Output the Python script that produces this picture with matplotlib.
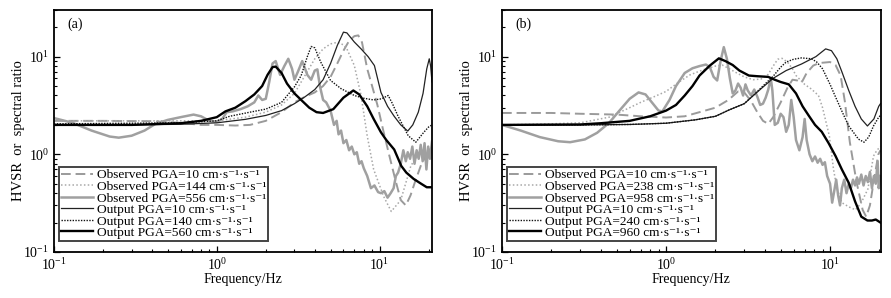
import numpy as np
import matplotlib
matplotlib.use('Agg')
import matplotlib.pyplot as plt

plt.rcParams['font.family'] = ['Liberation Serif', 'DejaVu Serif']
plt.rcParams['mathtext.fontset'] = 'custom'
plt.rcParams['mathtext.rm'] = 'Liberation Serif'
plt.rcParams['mathtext.it'] = 'Liberation Serif:italic'
plt.rcParams['font.size'] = 10

# ---- panel (a) ----
fa_obs10 = [0.1, 0.2, 0.4, 0.6, 0.8, 1.0, 1.3, 1.6, 2.0, 2.5, 3.0, 3.5, 4.0, 4.5, 5.0, 5.5, 6.0, 6.5,
            7.0, 7.4, 7.8, 8.4, 9.0, 9.7, 10.5, 11.5, 12.5, 13.5, 14.5, 15.5, 16.5, 18.0, 19.5, 21.0]
va_obs10 = [2.2, 2.2, 2.18, 2.1, 2.0, 2.0, 1.97, 2.0, 2.2, 2.7, 3.4, 3.9, 4.3, 5.0, 6.2, 8.5, 11.5, 14.5,
            16.2, 16.5, 14.0, 7.5, 5.0, 3.2, 1.8, 0.96, 0.55, 0.34, 0.30, 0.38, 0.52, 0.78, 1.0, 1.05]

fa_obs144 = [0.1, 0.3, 0.6, 1.0, 1.5, 2.0, 2.5, 3.0, 3.5, 4.0, 4.5, 5.0, 5.5, 6.0, 6.3, 7.0, 7.7, 8.4,
             9.2, 10.6, 11.8, 13.5, 15.6, 17.5, 19.5, 21.0]
va_obs144 = [2.2, 2.2, 2.2, 2.2, 2.4, 2.7, 3.2, 4.2, 6.5, 9.5, 12.0, 13.5, 14.0, 13.2, 12.0, 8.1, 4.0, 1.54,
             0.7, 0.37, 0.26, 0.34, 0.77, 1.0, 1.1, 1.15]

fa_obs556 = [0.1, 0.13, 0.17, 0.22, 0.25, 0.3, 0.36, 0.42, 0.5, 0.6, 0.72, 0.8, 0.9, 1.0, 1.08, 1.15,
             1.25, 1.4, 1.55, 1.7, 1.8, 1.9, 2.0, 2.1, 2.2, 2.3, 2.45, 2.6, 2.75, 2.9, 3.0, 3.15, 3.35,
             3.6, 3.8, 4.0, 4.15, 4.3, 4.5, 4.7, 5.0, 5.25, 5.45, 5.6, 5.8, 6.0, 6.25, 6.5, 6.75, 7.0,
             7.25, 7.5, 7.75, 8.0, 8.4, 8.85, 9.3, 9.8, 10.2, 10.7, 11.2, 11.7, 12.2, 12.6, 13.0, 13.5,
             14.0, 14.5, 14.9, 15.4, 15.9, 16.4, 16.9, 17.4, 17.9, 18.4, 18.9, 19.4, 19.9, 20.4, 21.0]
va_obs556 = [2.35, 2.1, 1.75, 1.52, 1.48, 1.55, 1.75, 2.05, 2.25, 2.4, 2.55, 2.45, 2.2, 2.15, 2.3, 2.7,
             2.75, 2.9, 3.1, 3.4, 4.0, 3.6, 3.7, 5.5, 8.5, 9.0, 6.5, 8.0, 9.5, 7.5, 5.8, 7.0, 9.0,
             6.5, 5.8, 7.2, 7.4, 5.0, 3.6, 3.4, 2.8, 2.0, 2.2, 1.6, 1.75, 1.3, 1.4, 1.1, 1.2, 1.0,
             1.05, 0.8, 0.85, 0.72, 0.6, 0.45, 0.48, 0.41, 0.4, 0.42, 0.36, 0.4, 0.45, 0.6, 0.65, 0.8,
             1.1, 0.85, 1.05, 0.9, 1.2, 0.8, 1.1, 0.9, 1.25, 0.85, 1.3, 0.7, 1.2, 0.9, 1.35]

fa_out10 = [0.1, 0.3, 0.6, 1.0, 1.5, 2.0, 2.5, 3.0, 3.5, 4.0, 4.5, 5.0, 5.5, 6.0, 6.3, 7.0, 7.7, 8.5,
            9.3, 10.2, 11.2, 12.3, 13.5, 14.9, 16.0, 17.3, 18.5, 19.5, 20.2, 20.6, 21.0]
va_out10 = [2.0, 2.0, 2.03, 2.1, 2.28, 2.5, 2.8, 3.3, 3.9, 4.6, 5.8, 8.5, 13.0, 17.8, 17.5, 14.1, 12.0, 10.0,
            8.1, 4.3, 3.1, 2.45, 2.0, 1.73, 2.0, 2.7, 4.2, 7.5, 9.5, 8.0, 5.5]

fa_out140 = [0.1, 0.3, 0.6, 1.0, 1.2, 1.6, 2.0, 2.5, 3.0, 3.3, 3.6, 3.8, 4.0, 4.35, 5.0, 5.8, 7.0, 8.0,
             9.2, 10.3, 11.3, 12.0, 13.0, 15.0, 16.7, 18.7, 20.0, 21.0]
va_out140 = [2.05, 2.08, 2.1, 2.2, 2.45, 2.7, 2.9, 3.4, 4.9, 6.4, 10.0, 12.7, 12.3, 8.8, 5.7, 4.7, 4.0, 3.75,
             3.6, 3.7, 4.0, 3.3, 2.45, 1.55, 1.33, 1.68, 1.9, 2.0]

fa_out560 = [0.1, 0.3, 0.6, 0.8, 1.0, 1.13, 1.3, 1.5, 1.7, 1.9, 2.05, 2.2, 2.3, 2.5, 2.7, 3.0, 3.3, 3.7,
             4.1, 4.5, 5.2, 6.0, 6.9, 7.5, 8.4, 9.2, 10.2, 11.0, 12.3, 13.6, 14.6, 16.2, 18.0, 19.5, 21.0]
va_out560 = [2.0, 2.0, 2.08, 2.2, 2.4, 2.75, 3.0, 3.5, 4.1, 5.0, 6.5, 7.8, 7.9, 6.8, 5.3, 4.2, 3.6, 3.0,
             2.7, 2.65, 2.9, 3.8, 4.5, 4.1, 3.1, 2.3, 1.68, 1.4, 1.12, 0.76, 0.65, 0.56, 0.5, 0.46, 0.46]

# ---- panel (b) ----
fb_obs10 = [0.1, 0.2, 0.3, 0.5, 0.7, 1.0, 1.3, 1.6, 2.0, 2.4, 2.75, 3.0, 3.3, 3.6, 3.9, 4.2, 4.5, 5.0,
            5.5, 5.9, 6.3, 6.7, 7.2, 7.9, 8.6, 10.0, 10.8, 11.6, 12.3, 13.2, 14.5, 15.8, 16.6, 17.5,
            18.4, 19.7, 20.3]
vb_obs10 = [2.65, 2.65, 2.6, 2.55, 2.45, 2.38, 2.45, 2.7, 3.0, 3.6, 4.4, 4.3, 3.5, 2.7, 2.2, 2.05, 2.4, 3.4,
            4.8, 5.8, 5.7, 5.4, 6.8, 8.1, 8.6, 8.8, 8.2, 6.4, 3.5, 1.33, 0.52, 0.27, 0.23, 0.3,
            0.51, 1.0, 1.1]

fb_obs238 = [0.1, 0.2, 0.3, 0.45, 0.6, 0.7, 0.85, 1.0, 1.2, 1.4, 1.6, 1.8, 2.0, 2.2, 2.4, 2.7, 3.0, 3.4,
             3.8, 4.2, 4.5, 4.8, 5.1, 5.5, 5.9, 6.2, 7.0, 7.7, 8.5, 9.0, 9.9, 10.5, 11.0, 11.8, 13.0,
             14.3, 15.5, 17.0, 18.4, 19.3, 20.3]
vb_obs238 = [2.0, 2.05, 2.1, 2.4, 3.0, 3.4, 3.9, 4.4, 5.5, 6.5, 7.1, 7.6, 8.0, 8.2, 7.6, 6.8, 6.2, 5.8,
             5.9, 6.6, 8.0, 9.4, 9.6, 8.8, 7.5, 6.4, 5.2, 4.65, 4.0, 3.0, 1.54, 0.7, 0.45, 0.32, 0.29,
             0.27, 0.32, 0.44, 0.96, 1.1, 1.2]

fb_obs958 = [0.1, 0.13, 0.17, 0.22, 0.26, 0.32, 0.38, 0.45, 0.52, 0.6, 0.68, 0.75, 0.82, 0.9, 0.95,
             1.05, 1.15, 1.3, 1.45, 1.6, 1.75, 1.85, 1.95, 2.05, 2.15, 2.25, 2.35, 2.45, 2.55, 2.65,
             2.75, 2.85, 2.95, 3.05, 3.15, 3.3, 3.45, 3.6, 3.75, 3.9, 4.05, 4.2, 4.35, 4.45, 4.6, 4.8,
             5.0, 5.2, 5.4, 5.6, 5.8, 6.0, 6.2, 6.5, 6.8, 7.0, 7.2, 7.5, 7.8, 8.1, 8.4, 8.7, 9.0, 9.3,
             9.6, 10.0, 10.3, 10.6, 10.9, 11.2, 11.5, 11.8, 12.2, 12.6, 13.0, 13.4, 13.8, 14.2, 14.6,
             15.0, 15.5, 16.0, 16.5, 17.0, 17.5, 18.0, 18.5, 19.0, 19.5, 19.8, 20.3]
vb_obs958 = [2.0, 1.75, 1.5, 1.36, 1.33, 1.42, 1.66, 2.1, 2.8, 3.7, 4.3, 4.1, 3.4, 2.8, 2.75,
             3.6, 5.0, 6.8, 7.6, 8.0, 8.3, 7.8, 6.2, 5.7, 9.0, 12.5, 9.5, 6.0, 4.2, 4.5,
             5.3, 4.8, 4.0, 5.2, 4.5, 4.0, 4.6, 3.9, 3.2, 3.3, 3.8, 4.6, 6.0, 4.5, 2.0, 2.1,
             2.6, 2.4, 1.7, 2.0, 3.6, 2.4, 1.4, 1.1, 1.5, 2.3, 1.4, 1.0, 0.85, 0.95, 0.82, 0.9, 0.78, 0.83,
             0.6, 0.5, 0.32, 0.42, 0.55, 0.38, 0.3, 0.45, 0.55, 0.4, 0.5, 0.45, 0.55, 0.48, 0.58,
             0.5, 0.62, 0.48, 0.6, 0.52, 0.66, 0.45, 0.6, 0.5, 0.85, 0.45, 0.6]

fb_out10 = [0.1, 0.3, 0.6, 1.0, 1.5, 2.0, 2.43, 3.0, 3.8, 4.5, 5.4, 6.7, 8.2, 9.4, 10.2, 11.0, 11.8,
            13.0, 14.2, 15.5, 16.9, 18.5, 19.8, 20.3]
vb_out10 = [2.0, 2.0, 2.02, 2.08, 2.25, 2.45, 2.85, 3.3, 4.7, 6.0, 7.2, 8.4, 10.0, 12.0, 11.5, 9.5, 7.0,
            4.5, 3.1, 2.3, 1.95, 2.3, 3.1, 3.3]

fb_out240 = [0.1, 0.3, 0.6, 1.0, 1.5, 2.0, 2.43, 3.0, 3.8, 4.5, 5.0, 5.4, 6.0, 6.7, 7.7, 8.3, 9.0, 10.0,
             10.7, 12.0, 13.0, 14.9, 16.1, 17.2, 18.4, 19.8, 20.3]
vb_out240 = [2.0, 2.0, 2.02, 2.08, 2.25, 2.45, 2.85, 3.3, 4.8, 6.3, 7.8, 8.8, 9.4, 9.7, 9.5, 8.8, 7.5, 5.2,
             4.0, 2.6, 1.95, 1.43, 1.33, 1.5, 1.95, 2.4, 2.5]

fb_out960 = [0.1, 0.3, 0.4, 0.6, 0.8, 1.0, 1.15, 1.3, 1.45, 1.6, 1.85, 2.1, 2.3, 2.55, 2.8, 3.2, 3.6,
             4.2, 4.6, 5.0, 5.6, 6.2, 6.8, 7.4, 8.1, 8.9, 9.8, 10.8, 11.8, 13.0, 14.2, 15.5, 16.9,
             18.0, 19.0, 20.3]
vb_out960 = [2.0, 2.02, 2.08, 2.2, 2.45, 2.8, 3.2, 4.0, 5.0, 6.4, 8.1, 9.6, 9.0, 8.2, 7.2, 6.4, 6.3,
             6.2, 5.8, 5.5, 5.2, 4.2, 3.1, 2.5, 2.0, 1.7, 1.3, 0.96, 0.7, 0.51, 0.33, 0.23, 0.21,
             0.21, 0.215, 0.2]

labels_a = ['Observed PGA=10', 'Observed PGA=144', 'Observed PGA=556',
            'Output PGA=10', 'Output PGA=140', 'Output PGA=560']
labels_b = ['Observed PGA=10', 'Observed PGA=238', 'Observed PGA=958',
            'Output PGA=10', 'Output PGA=240', 'Output PGA=960']
unit = ' cm\u00b7s\u207b\u00b9\u00b7s\u207b\u00b9'

styles = [dict(color='#9a9a9a', ls=(0, (5, 2.5)), lw=1.4),
          dict(color='#a8a8a8', ls=(0, (1, 1.5)), lw=1.1),
          dict(color='#a0a0a0', ls='-', lw=1.8),
          dict(color='#222222', ls='-', lw=0.9),
          dict(color='#111111', ls=(0, (1, 1)), lw=1.0),
          dict(color='#000000', ls='-', lw=1.7)]


def draw_panel(ax, curves, labels, tag, xmax):
    for (f, v), lab, st in zip(curves, labels, styles):
        ax.plot(f, v, label=lab + unit, **st)
    ax.set_xscale('log')
    ax.set_yscale('log')
    ax.set_xlim(0.1, xmax)
    ax.set_ylim(0.1, 30)
    ax.set_xlabel('Frequency/Hz', labelpad=0)
    ax.set_ylabel('HVSR  or  spectral ratio', labelpad=-1, fontsize=10.5)
    ax.tick_params(which='both', direction='in', top=False, right=False, labelsize=10)
    ax.tick_params(which='major', length=4, width=0.9)
    ax.tick_params(which='minor', length=2.5, width=0.8)
    for sp in ax.spines.values():
        sp.set_linewidth(1.3)
    ax.text(0.035, 0.94, tag, transform=ax.transAxes, fontsize=10, va='center')
    leg = ax.legend(loc='lower left', bbox_to_anchor=(0.013, 0.045), borderaxespad=0,
                    fontsize=9.6, labelspacing=-0.06, handlelength=2.4, handletextpad=0.3,
                    borderpad=0.15, fancybox=False, framealpha=1)
    leg.get_frame().set_edgecolor('#444444')
    leg.get_frame().set_linewidth(1.4)


fig = plt.figure(figsize=(8.91, 2.98), dpi=100)
ax1 = fig.add_axes([54 / 891, 46 / 298, 378 / 891, 242 / 298])
ax2 = fig.add_axes([502 / 891, 46 / 298, 378.5 / 891, 242 / 298])

draw_panel(ax1, [(fa_obs10, va_obs10), (fa_obs144, va_obs144), (fa_obs556, va_obs556),
                 (fa_out10, va_out10), (fa_out140, va_out140), (fa_out560, va_out560)],
           labels_a, '(a)', 21)
draw_panel(ax2, [(fb_obs10, vb_obs10), (fb_obs238, vb_obs238), (fb_obs958, vb_obs958),
                 (fb_out10, vb_out10), (fb_out240, vb_out240), (fb_out960, vb_out960)],
           labels_b, '(b)', 20.3)

fig.savefig('out.png', dpi=100)
